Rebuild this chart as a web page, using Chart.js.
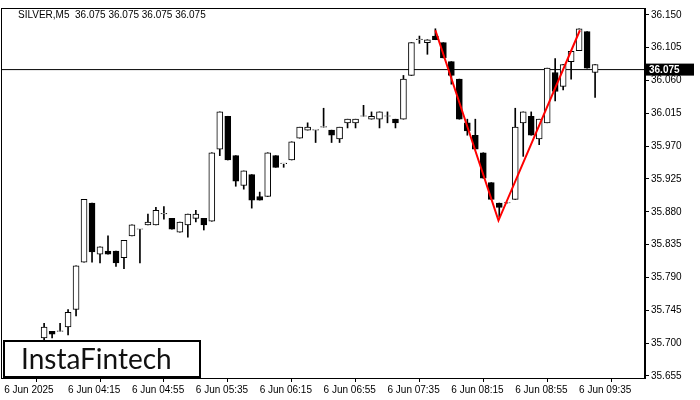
<!DOCTYPE html>
<html lang="en">
<head>
<meta charset="UTF-8">
<title>SILVER M5</title>
<script src="https://cdn.jsdelivr.net/npm/chart.js"></script>
<style>
  html, body { margin: 0; padding: 0; background: #fff; }
  #wrap { width: 700px; height: 400px; }
</style>
</head>
<body>
<div id="wrap"><canvas id="chart"></canvas></div>
<script>
// candles: 5 minute bars starting 6 Jun 04:00
const opens  = [35.707,35.716,35.716,35.722,35.746,35.811,35.892,35.822,35.826,35.826,35.817,35.847,35.856,35.862,35.862,35.877,35.871,35.852,35.862,35.871,
                35.871,35.867,35.966,36.011,35.957,35.916,35.931,35.901,35.901,35.957,35.946,35.951,35.981,35.992,35.992,35.996,35.992,35.980,36.002,36.002,
                36.011,36.007,36.007,36.011,36.007,36.007,36.067,36.116,36.112,36.121,36.112,36.086,36.062,36.002,35.985,35.961,35.920,35.892,35.892,35.897,
                36.002,36.011,35.980,36.002,36.071,36.052,36.086,36.101,36.127,36.071];
const highs  = [35.727,35.716,35.727,35.746,35.806,35.897,35.892,35.832,35.847,35.826,35.841,35.862,35.856,35.877,35.886,35.887,35.871,35.866,35.877,35.882,
                35.871,35.961,36.017,36.011,35.957,35.936,35.931,35.907,35.961,35.957,35.946,35.976,35.996,36.002,35.992,36.022,35.992,35.996,36.007,36.007,
                36.026,36.017,36.017,36.017,36.007,36.067,36.112,36.121,36.116,36.131,36.112,36.086,36.062,36.007,36.007,35.961,35.920,35.892,35.892,36.022,
                36.017,36.017,36.007,36.077,36.090,36.082,36.100,36.131,36.127,36.082];
const lows   = [35.704,35.707,35.716,35.711,35.737,35.811,35.811,35.810,35.822,35.805,35.802,35.847,35.810,35.862,35.862,35.870,35.856,35.852,35.845,35.866,
                35.855,35.867,35.957,35.951,35.915,35.911,35.885,35.896,35.901,35.941,35.941,35.951,35.981,35.992,35.975,35.996,35.975,35.975,35.995,35.995,
                36.011,36.007,35.995,36.002,35.995,36.007,36.067,36.111,36.096,36.116,36.091,36.055,36.007,35.985,35.966,35.926,35.897,35.873,35.892,35.897,
                35.956,35.985,35.972,36.002,36.032,36.047,36.062,36.101,36.077,36.037];
const closes = [35.722,35.712,35.716,35.742,35.806,35.897,35.825,35.832,35.822,35.810,35.841,35.862,35.856,35.866,35.882,35.877,35.856,35.866,35.877,35.877,
                35.862,35.961,36.017,35.951,35.922,35.936,35.896,35.896,35.961,35.941,35.946,35.976,35.996,35.996,35.992,35.996,35.985,35.996,36.007,36.007,
                36.011,36.011,36.017,36.011,36.002,36.062,36.112,36.116,36.116,36.116,36.091,36.067,36.007,35.991,35.966,35.926,35.897,35.886,35.892,35.996,
                36.017,35.985,36.007,36.077,36.045,36.082,36.100,36.131,36.077,36.082];

// pattern line (bar index, price)
const patternX = [49, 56.9, 67.1];
const patternY = [36.129, 35.868, 36.129];

const lastPrice = 36.075;
const priceTicks = [35.655,35.700,35.745,35.790,35.835,35.880,35.925,35.970,36.015,36.060,36.105,36.150];
const timeTicks = [-5, 3, 11, 19, 27, 35, 43, 51, 59, 67];

function timeLabel(i) {
  if (i < 0) return '6 Jun 2025';
  const m = 4 * 60 + i * 5;
  return '6 Jun ' + String(Math.floor(m / 60)).padStart(2, '0') + ':' + String(m % 60).padStart(2, '0');
}

const wicks = opens.map((o, i) => ({ x: i, y: [lows[i], Math.max(highs[i], lows[i] + 0.0006)] }));
const bodies = opens.map((o, i) => {
  const lo = Math.min(o, closes[i]), hi = Math.max(o, closes[i]);
  return { x: i, y: [lo, Math.max(hi, lo + 0.0007)] };
});
const bodyColors = opens.map((o, i) => closes[i] < o ? '#000' : '#fff');

const FONT = { family: 'Liberation Sans, Arial, sans-serif', size: 10 };

const overlay = {
  id: 'overlay',
  afterDraw(chart) {
    const { ctx, chartArea: a, scales: { y } } = chart;
    ctx.save();
    // frame
    ctx.strokeStyle = '#000';
    ctx.lineWidth = 1;
    ctx.strokeRect(a.left + 0.5, a.top + 0.5, a.right - a.left - 1, a.bottom - a.top);
    // price label box
    const py = y.getPixelForValue(lastPrice);
    ctx.fillStyle = '#000';
    ctx.fillRect(a.right + 1, py - 6, 48, 12);
    ctx.fillStyle = '#fff';
    ctx.font = 'bold 10px Liberation Sans, Arial, sans-serif';
    ctx.textBaseline = 'middle';
    ctx.fillText('36.075', a.right + 4, py + 0.5);
    // header
    ctx.fillStyle = '#000';
    ctx.font = '10px Liberation Sans, Arial, sans-serif';
    ctx.fillText('SILVER,M5  36.075 36.075 36.075 36.075', a.left + 17, a.top + 7);
    // logo box
    ctx.fillStyle = '#fff';
    ctx.fillRect(3, 340, 198, 38);
    ctx.lineWidth = 2;
    ctx.strokeRect(4, 341, 196, 36);
    ctx.fillStyle = '#111';
    ctx.font = '28px Lato, Open Sans, sans-serif';
    ctx.fillText('InstaFintech', 21, 360);
    ctx.restore();
  }
};

new Chart('chart', {
  type: 'bar',
  data: {
    datasets: [
      {
        type: 'line',
        data: [{ x: -6, y: lastPrice }, { x: 76, y: lastPrice }],
        borderColor: '#000', borderWidth: 1, pointRadius: 0, order: 3
      },
      {
        data: wicks, backgroundColor: '#000', barThickness: 1, grouped: false, order: 2
      },
      {
        data: bodies, backgroundColor: bodyColors, borderColor: '#000', borderWidth: 1,
        borderSkipped: false, barThickness: 6, grouped: false, order: 1
      },
      {
        type: 'line',
        data: patternX.map((x, i) => ({ x: x, y: patternY[i] })),
        borderColor: '#f00', borderWidth: 2, pointRadius: 0, order: 0
      }
    ]
  },
  options: {
    responsive: true,
    maintainAspectRatio: false,
    animation: false,
    layout: { padding: { left: 1, top: 5, right: 0, bottom: 0 } },
    plugins: { legend: { display: false }, tooltip: { enabled: false } },
    scales: {
      x: {
        type: 'linear', min: -5.4, max: 75.25, offset: false,
        grid: { display: true, drawOnChartArea: false, drawTicks: true, tickLength: 4, color: '#000' },
        border: { display: true, color: '#000' },
        afterBuildTicks: s => { s.ticks = timeTicks.map(v => ({ value: v })); },
        afterFit: s => { s.height = 22; },
        ticks: {
          autoSkip: false, maxRotation: 0, align: 'start', padding: 2,
          color: '#000', font: FONT, callback: v => timeLabel(v)
        }
      },
      y: {
        position: 'right', min: 35.652, max: 36.1595,
        grid: { display: true, drawOnChartArea: false, drawTicks: true, tickLength: 4, color: '#000' },
        border: { display: true, color: '#000' },
        afterBuildTicks: s => { s.ticks = priceTicks.map(v => ({ value: v })); },
        afterFit: s => { s.width = 55; },
        ticks: { color: '#000', font: FONT, padding: 2, callback: v => v.toFixed(3) }
      }
    }
  },
  plugins: [overlay]
});
</script>
</body>
</html>
